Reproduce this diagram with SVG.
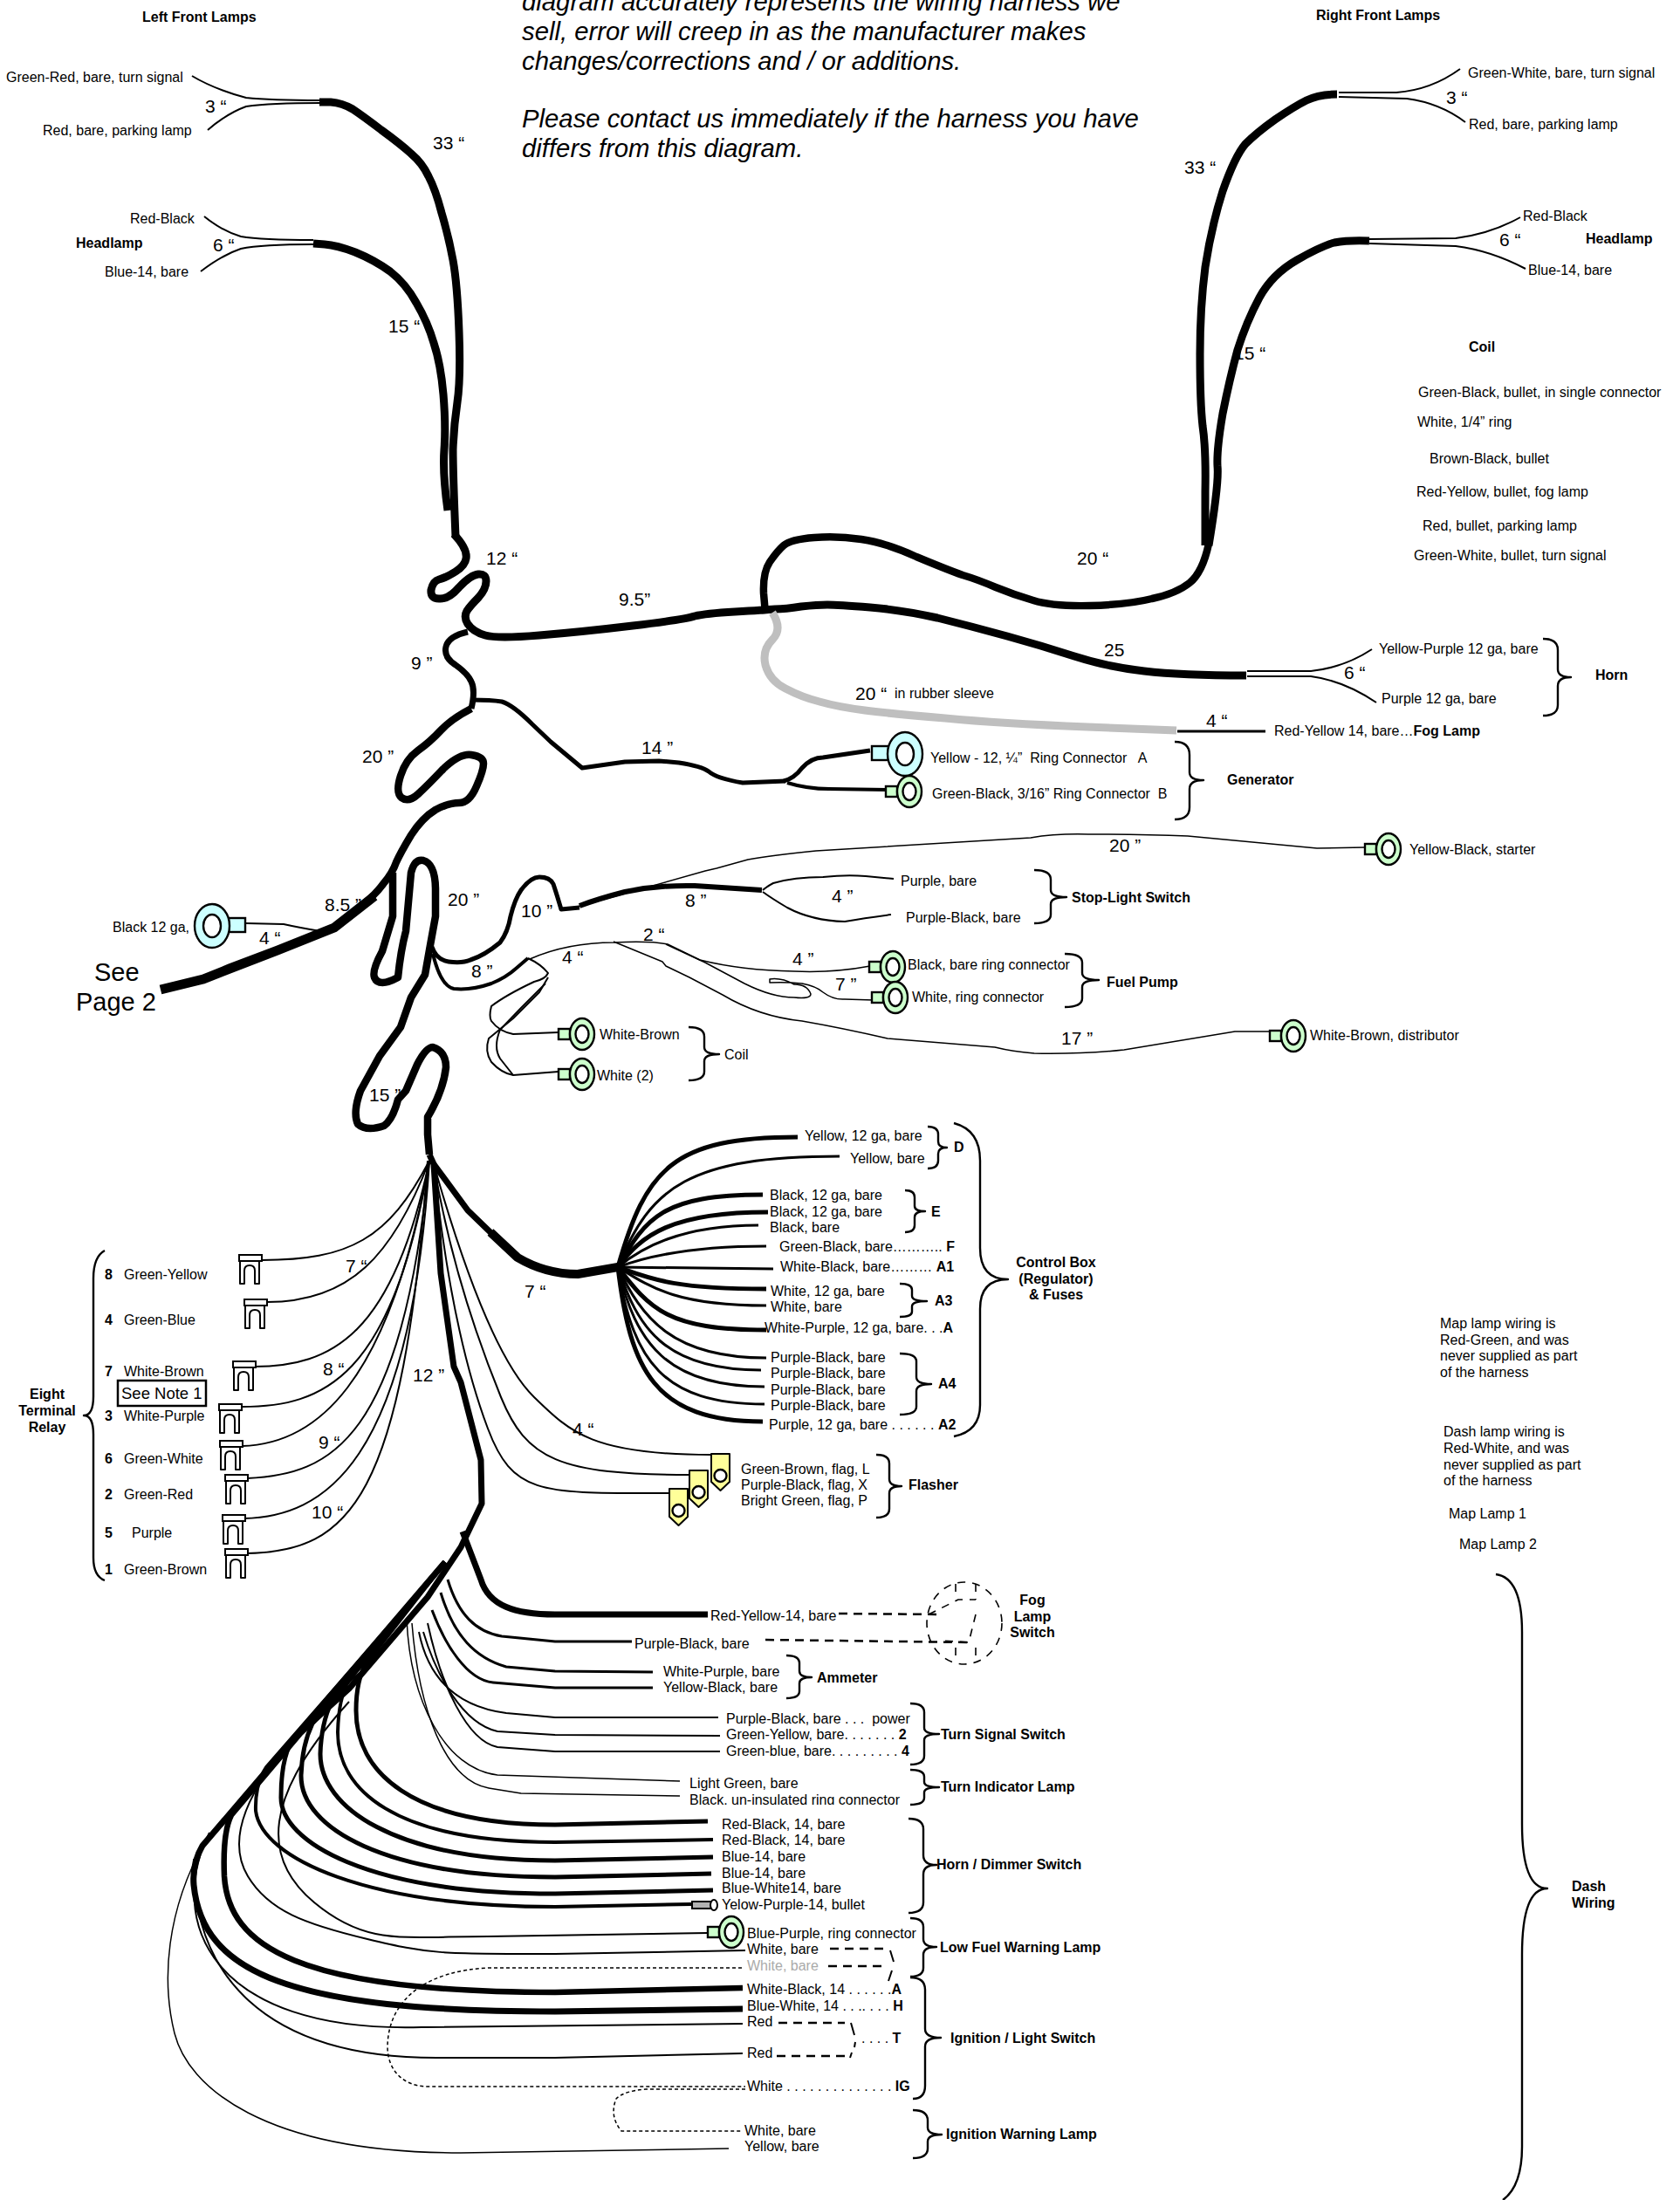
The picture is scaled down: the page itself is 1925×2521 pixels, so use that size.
<svg xmlns="http://www.w3.org/2000/svg" width="1925" height="2521" viewBox="0 0 1925 2521">
<style>
text{font-family:"Liberation Sans",Arial,sans-serif;font-size:16px;fill:#000;white-space:pre}
.b,.b tspan{font-weight:bold}
tspan.b{font-weight:bold}
.n{font-size:21px}
.h{font-size:29.3px;font-style:italic}
.p{font-size:29px}
.s{font-size:18.5px}
path,line{fill:none;stroke:#000;stroke-linecap:butt;stroke-linejoin:round}
.w9{stroke-width:9}.w8{stroke-width:8.5}.w7{stroke-width:7}.w6{stroke-width:6}.w5{stroke-width:5}.w4{stroke-width:4}.w3{stroke-width:3}.w2{stroke-width:2}.w1{stroke-width:1.5}
.gr{stroke:#bfbfbf;stroke-width:9}
.br{stroke-width:2.4}
.dash{stroke-width:2.5;stroke-dasharray:10 7}
.dot{stroke-width:1.5;stroke-dasharray:4 3}
.dsh{stroke-width:1.6;stroke-dasharray:9 8}
.rg{fill:#ccffcc;stroke:#000;stroke-width:2.4}
.rb{fill:#ccffff;stroke:#000;stroke-width:2.4}
.hole{fill:#fff;stroke:#000;stroke-width:2.4}
.fl{fill:#ffff99;stroke:#000;stroke-width:2}
.tm{fill:#fff;stroke:#000;stroke-width:2}
</style>
<defs>
<g id="ringG"><rect class="rg" x="-27" y="-6" width="13" height="12"/><ellipse class="rg" rx="14" ry="18"/><ellipse class="hole" rx="7.5" ry="10"/></g>
<g id="ringB"><rect class="rb" x="-38" y="-9" width="19" height="16"/><ellipse class="rb" rx="20" ry="25"/><ellipse class="hole" rx="10" ry="13"/></g>
<g id="term"><path class="tm" d="M1,7V33H6V18Q6,12 12,12Q18,12 18,18V33H23V7Z"/><rect class="tm" x="0" y="0" width="26" height="7"/></g>
<g id="flag"><path class="fl" d="M0,0H21V32L10.500,42L0,32Z"/><circle class="hole" cx="10.500" cy="25" r="7"/></g>
<clipPath id="cut"><rect x="780" y="2040" width="300" height="28"/></clipPath>
</defs>

<g id="connectors">
<path class="w2" d="M220,87Q245,102 282,112Q310,115 367,115"/>
<path class="w2" d="M238,149Q260,130 282,122Q310,118 367,118"/>
<path class="w9" d="M366,117L379,117Q392,118 404,125Q416,133 437,149Q459,165 471,176Q484,187 491,202Q499,217 506,244Q514,271 519,298Q524,325 526,380Q528,434 524,461Q520,488 519,515Q519,542 522,615"/>
<path class="w2" d="M234,248Q255,265 276,271Q300,275 359,275"/>
<path class="w2" d="M230,311Q255,292 276,285Q300,280 359,280"/>
<path class="w9" d="M359,279L372,280Q386,281 407,289Q429,298 447,311Q465,325 477,347Q490,369 497,393Q505,417 508,452Q511,488 509,515Q507,542 513,585"/>
<path class="w9" d="M520,612Q536,629 534,640Q533,648 522,655Q511,662 503,664Q496,666 494,676Q493,686 503,686Q514,687 526,673Q539,659 548,658Q557,657 557,666Q557,675 548,685Q539,694 535,700Q531,707 536,715Q542,724 556,728Q570,732 618,728Q667,724 725,717Q784,710 796,706Q808,703 842,701Q876,699 888,698Q900,698 918,695Q937,693 948,693Q960,693 997,696Q1034,699 1074,708Q1114,718 1154,729Q1194,740 1231,752Q1268,764 1311,769Q1354,774 1428,774"/>
<path class="w2" d="M1429,769L1502,769Q1540,765 1572,744"/>
<path class="w2" d="M1429,775L1502,775Q1540,780 1577,805"/>
<path class="w8" d="M877,703L875,680Q874,656 882,644Q891,631 898,625Q906,618 933,616Q960,614 987,618Q1015,622 1050,638Q1086,653 1103,659Q1120,664 1141,673Q1163,682 1184,688Q1206,695 1249,694Q1292,693 1320,686Q1348,680 1363,668Q1378,656 1385,623"/>
<path class="w9" d="M1381,625L1381,563Q1382,515 1378,488Q1375,461 1375,406Q1375,352 1381,306Q1388,260 1401,219Q1415,179 1427,165Q1440,152 1461,137Q1483,122 1497,115Q1511,108 1532,108"/>
<path class="w9" d="M1385,625Q1397,553 1395,534Q1394,515 1401,474Q1409,434 1418,401Q1428,369 1443,341Q1458,314 1486,298Q1514,282 1529,278Q1545,275 1569,276"/>
<path class="w2" d="M1534,106L1600,106Q1640,103 1673,79"/>
<path class="w2" d="M1534,111L1612,113Q1650,118 1679,140"/>
<path class="w2" d="M1569,274L1668,273Q1708,268 1742,249"/>
<path class="w2" d="M1569,279L1668,282Q1708,287 1748,308"/>
<path class="gr" d="M885,702Q897,721 885,733Q873,745 877,762Q882,780 900,789Q919,799 939,804Q960,810 991,814Q1022,818 1083,823Q1145,829 1246,833L1348,837"/>
<path class="w3" d="M1349,838L1450,838"/>
<path class="w7" d="M536,724Q514,729 511,741Q508,753 522,762Q536,772 540,781Q545,791 540,812"/>
<path class="w8" d="M540,812Q517,824 505,837Q493,850 479,860Q465,870 459,889Q453,908 460,914Q468,920 479,910Q490,900 508,881Q527,863 540,865Q554,867 554,875Q554,883 546,901Q538,920 526,920Q514,920 499,928Q484,937 471,957Q459,977 454,988Q450,1000 439,1013Q429,1027 406,1045"/>
<path stroke-width="11" d="M429,1027L383,1063L318,1089L263,1110L233,1122L184,1134"/>
<path class="w2" d="M282,1058L325,1059Q343,1063 367,1067"/>
<path class="w5" d="M540,802Q563,802 575,804Q588,808 610,830L631,850L667,880L716,873L755,872L778,874Q804,878 812,884Q821,892 851,897L900,895"/>
<path class="w5" d="M898,895Q910,892 919,880Q930,868 943,868L997,860"/>
<path class="w4" d="M902,897Q925,904 950,904L1017,905"/>
<path class="w8" d="M450,1000L450,1050L438,1090Q426,1112 429,1120Q434,1132 456,1120Q459,1090 465,1067L471,1000Q475,984 485,986Q499,990 499,1020L499,1050L493,1083L487,1117L471,1143L459,1177L435,1210L413,1250Q404,1275 410,1288Q420,1297 440,1290Q450,1283 456,1260L465,1250L478,1220Q488,1200 496,1200Q511,1205 511,1223Q508,1250 490,1280L490,1300L492,1323"/>
<path class="w5" d="M495,1085Q500,1100 514,1102Q530,1104 539,1100Q555,1095 573,1080Q582,1068 585,1050Q590,1030 597,1020Q608,1005 618,1005Q630,1005 634,1013Q638,1025 643,1042L664,1040"/>
<path class="w6" d="M664,1038Q685,1030 716,1022Q755,1014 796,1015L873,1020"/>
<path class="w1" d="M658,1040L741,1017L808,998L821,995L857,985Q885,980 935,975L1181,960Q1210,955 1247,956Q1310,956 1361,958L1509,972L1564,971"/>
<path class="w2" d="M874,1020Q880,1015 886,1012Q910,1005 943,1005Q970,1002 992,1004L1024,1007"/>
<path class="w2" d="M874,1022Q885,1030 902,1040Q930,1055 968,1056Q990,1052 1021,1048"/>
<path class="w4" d="M496,1093Q505,1130 520,1133Q540,1135 563,1127Q580,1120 591,1110L605,1098"/>
<path class="w1" d="M607,1099Q650,1080 704,1080Q745,1078 765,1082L802,1100Q850,1112 910,1113Q955,1115 997,1107"/>
<path class="w1" d="M703,1079L759,1102L763,1107L790,1120L828,1140Q870,1165 919,1170Q965,1178 1017,1190L1140,1200Q1160,1205 1185,1207Q1240,1208 1288,1203L1415,1182L1456,1182"/>
<path class="w1" d="M763,1082L808,1103L853,1127Q885,1143 910,1143Q929,1145 929,1139Q925,1128 910,1128Q895,1120 882,1122L882,1126Q900,1125 919,1127Q935,1130 943,1137Q955,1146 968,1145L1001,1146"/>
<path class="w2" d="M605,1098Q620,1105 628,1115Q625,1122 612,1125Q580,1140 563,1153Q560,1165 563,1170Q572,1182 588,1185L640,1183"/>
<path class="w2" d="M628,1120L618,1137L588,1167L560,1190Q555,1205 563,1217Q575,1230 588,1232L640,1228"/>
<path class="w2" d="M625,1127L597,1155L573,1180Q565,1200 573,1213L588,1232"/>
<path class="w7" d="M492,1323L497,1334L505,1459L520,1566L528,1584L551,1673L552,1723L528,1773L490,1830L400,1935L345,1985"/>
<path class="w7" d="M497,1334L536,1387L566,1416"/>
<path stroke-width="10" d="M562,1412L593,1441Q625,1460 662,1460L708,1452"/>
<path class="w5" d="M708,1452C740,1340 770,1303 914,1303"/>
<path class="w3" d="M708,1452C745,1360 790,1325 962,1325"/>
<path class="w5" d="M708,1452C740,1395 760,1369 874,1369"/>
<path class="w5" d="M708,1452C735,1415 770,1389 880,1389"/>
<path class="w3" d="M708,1452C735,1430 780,1404 869,1404"/>
<path class="w3" d="M708,1452C740,1440 790,1428 878,1428"/>
<path class="w3" d="M708,1452L886,1454"/>
<path class="w5" d="M708,1452C745,1465 770,1477 878,1477"/>
<path class="w3" d="M708,1452C745,1475 775,1496 878,1496"/>
<path class="w5" d="M708,1452C745,1500 765,1524 878,1524"/>
<path class="w3" d="M708,1452C735,1510 770,1556 878,1556"/>
<path class="w3" d="M708,1452C730,1520 760,1570 872,1570"/>
<path class="w3" d="M708,1452C728,1540 765,1589 876,1589"/>
<path class="w3" d="M708,1452C725,1560 760,1609 876,1609"/>
<path class="w5" d="M708,1452C722,1570 750,1629 874,1629"/>
<path class="w2" d="M300,1444C400,1444 445,1420 492,1330"/>
<path class="w2" d="M306,1492C400,1492 450,1440 492,1330"/>
<path class="w2" d="M291,1566C380,1566 450,1530 492,1330"/>
<path class="w2" d="M277,1612C370,1612 450,1580 492,1330"/>
<path class="w2" d="M277,1657C360,1655 445,1590 492,1330"/>
<path class="w2" d="M283,1694C380,1690 460,1650 492,1330"/>
<path class="w2" d="M279,1740C370,1738 470,1680 492,1330"/>
<path class="w2" d="M283,1780C400,1778 462,1720 490,1330"/>
<path class="w2" d="M497,1334C530,1450 570,1560 612,1601S680,1667 815,1667"/>
<path class="w2" d="M497,1334C515,1440 545,1530 574,1601S640,1690 790,1690"/>
<path class="w2" d="M497,1334C510,1460 530,1560 559,1637S620,1711 767,1711"/>
<path stroke-width="7" d="M530,1755L551,1810C560,1840 590,1850 636,1850L811,1850"/>
<path class="w3" d="M513,1810C525,1850 545,1870 575,1875L636,1881L724,1881"/>
<path class="w3" d="M505,1825C520,1875 545,1900 580,1910L636,1915L748,1916"/>
<path class="w3" d="M495,1845C510,1885 535,1925 565,1928L636,1934L748,1934"/>
<path class="w2" d="M480,1870C490,1920 520,1955 580,1963L636,1968L823,1968"/>
<path class="w2" d="M485,1870C500,1920 530,1975 570,1984L636,1988L825,1989"/>
<path class="w2" d="M490,1860C505,1930 535,1995 570,2002L636,2007L825,2007"/>
<path class="w1" d="M466,1855C470,1950 510,2027 570,2034L779,2041"/>
<path class="w1" d="M472,1860C480,1960 510,2040 560,2049L597,2055L779,2058"/>
<path class="w5" d="M510,1790L420,1905Q408,1925 408,1960C408,2030 470,2091 636,2091L811,2087"/>
<path class="w4" d="M510,1790L400,1925Q388,1945 387,1985C387,2050 450,2111 636,2111L817,2108"/>
<path class="w5" d="M510,1790L380,1950Q368,1975 367,2010C367,2070 450,2132 636,2132L817,2128"/>
<path class="w5" d="M510,1790L358,1975Q346,2000 345,2035C345,2095 440,2151 636,2151L815,2147"/>
<path class="w5" d="M510,1790L332,2000Q322,2020 322,2060C322,2110 420,2170 636,2170L817,2166"/>
<path class="w4" d="M510,1790L305,2025Q292,2045 293,2075C300,2130 420,2185 636,2185L792,2182"/>
<path class="w2" d="M400,1950C300,2060 300,2130 360,2180S460,2219 559,2219L811,2215"/>
<path class="w2" d="M420,1910C270,2040 260,2110 284,2150S350,2205 421,2222S500,2239 636,2239L854,2235"/>
<path stroke-width="6.500" d="M510,1790L265,2080Q255,2100 257,2150C262,2230 340,2283 636,2283L851,2278"/>
<path stroke-width="7" d="M510,1790L232,2115Q220,2135 222,2160C232,2260 330,2305 636,2305L851,2302"/>
<path class="w2" d="M240,2100C190,2200 240,2330 483,2323L851,2319"/>
<path class="w2" d="M222,2130C220,2260 300,2358 500,2358L636,2358L851,2353"/>
<path class="w1" d="M235,2110C190,2190 185,2270 200,2330S300,2467 528,2467L835,2462"/>
<path class="dot" d="M850,2255L560,2255C490,2258 445,2290 444,2345C444,2375 465,2391 490,2391L854,2391"/>
<path class="dot" d="M854,2394L740,2394Q715,2396 706,2405Q698,2425 712,2442L851,2442"/>
<path class="dash" d="M961,1849L1079,1850"/>
<path class="dash" d="M877,1879L1110,1882"/>
<path class="dash" d="M951,2233L1014,2233"/>
<path class="dash" d="M949,2253L1014,2253"/>
<path class="w2" d="M1020,2235L1024,2248M1022,2258L1018,2270"/>
<path class="dash" d="M892,2318L968,2318"/>
<path class="dash" d="M890,2356L968,2356"/>
<path class="w2" d="M975,2318L979,2332M980,2340L979,2346M976,2352L974,2358"/>
</g>

<g id="text-note">
<text class="h" x="598" y="12">diagram accurately represents the wiring harness we</text>
<text class="h" x="598" y="46">sell, error will creep in as the manufacturer makes</text>
<text class="h" x="598" y="80">changes/corrections and / or additions.</text>
<text class="h" x="598" y="146">Please contact us immediately if the harness you have</text>
<text class="h" x="598" y="180">differs from this diagram.</text>
</g>

<g id="left-front-lamps">
<text class="b" x="163" y="25">Left Front Lamps</text>
<text x="7" y="94">Green-Red, bare, turn signal</text>
<text x="49" y="155">Red, bare, parking lamp</text>
<text class="n" x="235" y="129">3 “</text>
<text class="n" x="496" y="171">33 “</text>
<text x="149" y="256">Red-Black</text>
<text class="b" x="87" y="284">Headlamp</text>
<text x="120" y="317">Blue-14, bare</text>
<text class="n" x="244" y="288">6 “</text>
<text class="n" x="445" y="381">15 “</text>
<text class="n" x="557" y="647">12 “</text>
<text class="n" x="709" y="694">9.5”</text>
<text class="n" x="471" y="767">9 ”</text>
</g>

<g id="right-front-lamps">
<text class="b" x="1508" y="23">Right Front Lamps</text>
<text x="1682" y="89">Green-White, bare, turn signal</text>
<text x="1683" y="148">Red, bare, parking lamp</text>
<text class="n" x="1657" y="119">3 “</text>
<text class="n" x="1357" y="199">33 “</text>
<text x="1745" y="253">Red-Black</text>
<text class="n" x="1718" y="282">6 “</text>
<text class="b" x="1817" y="279">Headlamp</text>
<text x="1751" y="315">Blue-14, bare</text>
<text class="n" x="1414" y="412">15 “</text>
<text class="n" x="1234" y="647">20 “</text>
</g>

<g id="coil-list">
<text class="b" x="1683" y="403">Coil</text>
<text x="1625" y="455">Green-Black, bullet, in single connector</text>
<text x="1624" y="489">White, 1/4” ring</text>
<text x="1638" y="531">Brown-Black, bullet</text>
<text x="1623" y="569">Red-Yellow, bullet, fog lamp</text>
<text x="1630" y="608">Red, bullet, parking lamp</text>
<text x="1620" y="642">Green-White, bullet, turn signal</text>
</g>

<g id="horn">
<text class="n" x="1265" y="752">25</text>
<text class="n" x="980" y="802">20 “</text>
<text x="1025" y="800">in rubber sleeve</text>
<text x="1580" y="749">Yellow-Purple 12 ga, bare</text>
<text class="n" x="1540" y="778">6 “</text>
<text x="1583" y="806">Purple 12 ga, bare</text>
<text class="b" x="1828" y="779">Horn</text>
<path class="br" d="M1768,732Q1785,732 1785,745V767Q1785,776 1800,776Q1785,776 1785,786V808Q1785,820 1768,820"/>
</g>

<g id="fog-lamp-wire">
<text class="n" x="1382" y="833">4 “</text>
<text x="1460" y="843">Red-Yellow 14, bare…<tspan class="b">Fog Lamp</tspan></text>
</g>

<g id="generator">
<use href="#ringB" x="1037" y="864"/>
<use href="#ringG" x="1042" y="907"/>
<text class="n" x="735" y="864">14 ”</text>
<text x="1066" y="874">Yellow - 12, ¼”  Ring Connector   A</text>
<text x="1068" y="915">Green-Black, 3/16” Ring Connector  B</text>
<text class="b" x="1406" y="899">Generator</text>
<path class="br" d="M1346,850Q1363,850 1363,865V885Q1363,894 1379,894Q1363,894 1363,904V925Q1363,939 1346,939"/>
</g>

<g id="starter">
<use href="#ringG" x="1591" y="973"/>
<text x="1615" y="979">Yellow-Black, starter</text>
<text class="n" x="1271" y="976">20 ”</text>
</g>

<g id="stop-light-switch">
<text x="1032" y="1015">Purple, bare</text>
<text x="1038" y="1057">Purple-Black, bare</text>
<text class="n" x="953" y="1034">4 ”</text>
<text class="n" x="785" y="1039">8 ”</text>
<text class="b" x="1228" y="1034">Stop-Light Switch</text>
<path class="br" d="M1185,997Q1204,997 1204,1008V1020Q1204,1028 1222,1028Q1204,1028 1204,1036V1048Q1204,1058 1185,1058"/>
</g>

<g id="black-12">
<use href="#ringB" transform="translate(243,1061) scale(-1,1)"/>
<text x="129" y="1068">Black 12 ga,</text>
<text class="p" x="108" y="1124">See</text>
<text class="p" x="87" y="1158">Page 2</text>
<text class="n" x="415" y="874">20 ”</text>
<text class="n" x="372" y="1044">8.5 ”</text>
<text class="n" x="513" y="1038">20 ”</text>
<text class="n" x="597" y="1051">10 ”</text>
<text class="n" x="297" y="1082">4 “</text>
<text class="n" x="540" y="1120">8 ”</text>
<text class="n" x="644" y="1104">4 “</text>
<text class="n" x="737" y="1078">2 “</text>
<text class="n" x="423" y="1262">15 ”</text>
</g>

<g id="fuel-pump">
<use href="#ringG" x="1023" y="1108"/>
<use href="#ringG" x="1026" y="1143"/>
<text class="n" x="908" y="1106">4 ”</text>
<text class="n" x="957" y="1135">7 ”</text>
<text x="1040" y="1111">Black, bare ring connector</text>
<text x="1045" y="1148">White, ring connector</text>
<text class="b" x="1268" y="1131">Fuel Pump</text>
<path class="br" d="M1220,1093Q1240,1093 1240,1103V1115Q1240,1123 1259,1123Q1240,1123 1240,1131V1144Q1240,1154 1220,1154"/>
</g>

<g id="distributor">
<use href="#ringG" x="1482" y="1187"/>
<text class="n" x="1216" y="1197">17 ”</text>
<text x="1501" y="1192">White-Brown, distributor</text>
</g>

<g id="coil">
<use href="#ringG" x="667" y="1185"/>
<use href="#ringG" x="667" y="1231"/>
<text x="687" y="1191">White-Brown</text>
<text x="684" y="1238">White (2)</text>
<text x="830" y="1214">Coil</text>
<path class="br" d="M789,1177Q807,1177 807,1188V1200Q807,1208 824,1208Q807,1208 807,1216V1228Q807,1238 789,1238"/>
</g>

<g id="control-box">
<text x="922" y="1307">Yellow, 12 ga, bare</text>
<text x="974" y="1333">Yellow, bare</text>
<text x="882" y="1375">Black, 12 ga, bare</text>
<text x="882" y="1394">Black, 12 ga, bare</text>
<text x="882" y="1412">Black, bare</text>
<text x="893" y="1434">Green-Black, bare……….. <tspan class="b">F</tspan></text>
<text x="894" y="1457">White-Black, bare……… <tspan class="b">A1</tspan></text>
<text x="883" y="1485">White, 12 ga, bare</text>
<text x="883" y="1503">White, bare</text>
<text x="876" y="1527">White-Purple, 12 ga, bare. . .<tspan class="b">A</tspan></text>
<text x="883" y="1561">Purple-Black, bare</text>
<text x="883" y="1579">Purple-Black, bare</text>
<text x="883" y="1598">Purple-Black, bare</text>
<text x="883" y="1616">Purple-Black, bare</text>
<text x="881" y="1638">Purple, 12 ga, bare . . . . . . <tspan class="b">A2</tspan></text>
<text class="b" x="1093" y="1320">D</text>
<text class="b" x="1067" y="1394">E</text>
<text class="b" x="1071" y="1496">A3</text>
<text class="b" x="1075" y="1591">A4</text>
<text class="b" x="1210" y="1452" text-anchor="middle">Control Box</text>
<text class="b" x="1210" y="1471" text-anchor="middle">(Regulator)</text>
<text class="b" x="1210" y="1489" text-anchor="middle">&amp; Fuses</text>
<text class="n" x="601" y="1487">7 “</text>
<path class="br" d="M1093,1287Q1123,1295 1123,1330V1430Q1123,1466 1155,1466Q1123,1466 1123,1500V1610Q1123,1640 1093,1646"/>
<path class="br" d="M1063,1291Q1075,1291 1075,1300V1308Q1075,1315 1085,1315Q1075,1315 1075,1322V1330Q1075,1339 1063,1339"/>
<path class="br" d="M1037,1364Q1048,1364 1048,1372V1382Q1048,1388 1060,1388Q1048,1388 1048,1395V1404Q1048,1412 1037,1412"/>
<path class="br" d="M1031,1471Q1045,1471 1045,1478V1485Q1045,1491 1062,1491Q1045,1491 1045,1497V1503Q1045,1509 1031,1509"/>
<path class="br" d="M1031,1551Q1050,1551 1050,1560V1578Q1050,1586 1067,1586Q1050,1586 1050,1594V1612Q1050,1621 1031,1621"/>
</g>

<g id="flasher">
<use href="#flag" x="815" y="1666"/>
<use href="#flag" x="790" y="1685"/>
<use href="#flag" x="767" y="1706"/>
<text class="n" x="656" y="1645">4 “</text>
<text x="849" y="1689">Green-Brown, flag, L</text>
<text x="849" y="1707">Purple-Black, flag, X</text>
<text x="849" y="1725">Bright Green, flag, P</text>
<text class="b" x="1041" y="1707">Flasher</text>
<path class="br" d="M1004,1667Q1019,1667 1019,1677V1695Q1019,1703 1033,1703Q1019,1703 1019,1711V1729Q1019,1739 1004,1739"/>
</g>

<g id="relay">
<use href="#term" x="274" y="1438"/>
<use href="#term" x="280" y="1489"/>
<use href="#term" x="267" y="1560"/>
<use href="#term" x="251" y="1609"/>
<use href="#term" x="252" y="1651"/>
<use href="#term" x="258" y="1690"/>
<use href="#term" x="255" y="1736"/>
<use href="#term" x="258" y="1775"/>
<text class="b" x="120" y="1466">8</text><text x="142" y="1466">Green-Yellow</text>
<text class="b" x="120" y="1518">4</text><text x="142" y="1518">Green-Blue</text>
<text class="b" x="120" y="1577">7</text><text x="142" y="1577">White-Brown</text>
<text class="b" x="120" y="1628">3</text><text x="142" y="1628">White-Purple</text>
<text class="b" x="120" y="1677">6</text><text x="142" y="1677">Green-White</text>
<text class="b" x="120" y="1718">2</text><text x="142" y="1718">Green-Red</text>
<text class="b" x="120" y="1762">5</text><text x="151" y="1762">Purple</text>
<text class="b" x="120" y="1804">1</text><text x="142" y="1804">Green-Brown</text>
<rect x="135" y="1582" width="101" height="29" fill="#fff" stroke="#000" stroke-width="2.5"/>
<text class="s" x="139" y="1603">See Note 1</text>
<text class="b" x="54" y="1603" text-anchor="middle">Eight</text>
<text class="b" x="54" y="1622" text-anchor="middle">Terminal</text>
<text class="b" x="54" y="1641" text-anchor="middle">Relay</text>
<text class="n" x="396" y="1458">7 “</text>
<text class="n" x="370" y="1576">8 “</text>
<text class="n" x="365" y="1660">9 “</text>
<text class="n" x="357" y="1740">10 “</text>
<text class="n" x="473" y="1583">12 ”</text>
<path class="br" d="M120,1433Q107,1440 107,1465V1600Q107,1622 96,1622Q107,1622 107,1644V1785Q107,1806 120,1811"/>
</g>

<g id="fog-lamp-switch">
<text x="814" y="1857">Red-Yellow-14, bare</text>
<text x="727" y="1889">Purple-Black, bare</text>
<ellipse cx="1105" cy="1860" rx="43" ry="47" fill="none" stroke="#000" stroke-width="1.600" stroke-dasharray="9 8"/>
<path class="dsh" d="M1095,1815V1832M1118,1815V1833M1064,1850L1098,1833L1118,1833M1118,1850L1110,1882L1080,1880M1095,1888V1905M1118,1888V1905"/>
<text class="b" x="1183" y="1839" text-anchor="middle">Fog</text>
<text class="b" x="1183" y="1858" text-anchor="middle">Lamp</text>
<text class="b" x="1183" y="1876" text-anchor="middle">Switch</text>
</g>

<g id="ammeter">
<text x="760" y="1921">White-Purple, bare</text>
<text x="760" y="1939">Yellow-Black, bare</text>
<text class="b" x="936" y="1928">Ammeter</text>
<path class="br" d="M901,1897Q916,1897 916,1906V1915Q916,1922 930,1922Q916,1922 916,1929V1938Q916,1946 901,1946"/>
</g>

<g id="turn-signal-switch">
<text x="832" y="1975">Purple-Black, bare . . .  power</text>
<text x="832" y="1993">Green-Yellow, bare. . . . . . . <tspan class="b">2</tspan></text>
<text x="832" y="2012">Green-blue, bare. . . . . . . . . <tspan class="b">4</tspan></text>
<text class="b" x="1078" y="1993">Turn Signal Switch</text>
<path class="br" d="M1043,1952Q1059,1952 1059,1962V1980Q1059,1987 1076,1987Q1059,1987 1059,1994V2012Q1059,2022 1043,2022"/>
</g>

<g id="turn-indicator-lamp">
<text x="790" y="2049">Light Green, bare</text>
<text x="790" y="2068" clip-path="url(#cut)">Black, un-insulated ring connector</text>
<text class="b" x="1078" y="2053">Turn Indicator Lamp</text>
<path class="br" d="M1043,2028Q1059,2028 1059,2036V2042Q1059,2048 1076,2048Q1059,2048 1059,2054V2060Q1059,2068 1043,2068"/>
</g>

<g id="horn-dimmer-switch">
<text x="827" y="2096">Red-Black, 14, bare</text>
<text x="827" y="2114">Red-Black, 14, bare</text>
<text x="827" y="2133">Blue-14, bare</text>
<text x="827" y="2152">Blue-14, bare</text>
<text x="827" y="2169">Blue-White14, bare</text>
<text x="827" y="2188">Yelow-Purple-14, bullet</text>
<rect x="793" y="2179" width="23" height="8" fill="#b2b2b2" stroke="#000" stroke-width="2"/>
<ellipse cx="818" cy="2183" rx="4" ry="6" fill="#fff" stroke="#000" stroke-width="2"/>
<text class="b" x="1073" y="2142">Horn / Dimmer Switch</text>
<path class="br" d="M1041,2084Q1058,2084 1058,2096V2126Q1058,2137 1073,2137Q1058,2137 1058,2148V2180Q1058,2192 1041,2192"/>
</g>

<g id="low-fuel-warning-lamp">
<use href="#ringG" x="838" y="2214"/>
<text x="856" y="2221">Blue-Purple, ring connector</text>
<text x="856" y="2239">White, bare</text>
<text x="856" y="2258" style="fill:#aaa">White, bare</text>
<text class="b" x="1077" y="2237">Low Fuel Warning Lamp</text>
<path class="br" d="M1043,2198Q1058,2198 1058,2208V2222Q1058,2231 1073,2231Q1058,2231 1058,2240V2255Q1058,2265 1043,2265"/>
</g>

<g id="ignition-light-switch">
<text x="856" y="2285">White-Black, 14 . . . . . .<tspan class="b">A</tspan></text>
<text x="856" y="2304">Blue-White, 14 . . .. . . . <tspan class="b">H</tspan></text>
<text x="856" y="2322">Red</text>
<text x="856" y="2358">Red</text>
<text x="987" y="2341">. . . . <tspan class="b">T</tspan></text>
<text x="856" y="2396">White . . . . . . . . . . . . . . <tspan class="b">IG</tspan></text>
<text class="b" x="1089" y="2341">Ignition / Light Switch</text>
<path class="br" d="M1043,2266Q1060,2266 1060,2280V2325Q1060,2335 1078,2335Q1060,2335 1060,2345V2390Q1060,2405 1046,2405"/>
</g>

<g id="ignition-warning-lamp">
<text x="853" y="2447">White, bare</text>
<text x="853" y="2465">Yellow, bare</text>
<text class="b" x="1084" y="2451">Ignition Warning Lamp</text>
<path class="br" d="M1046,2418Q1063,2418 1063,2430V2438Q1063,2446 1079,2446Q1063,2446 1063,2454V2462Q1063,2473 1046,2473"/>
</g>

<g id="map-notes">
<text x="1650" y="1522">Map lamp wiring is</text>
<text x="1650" y="1541">Red-Green, and was</text>
<text x="1650" y="1559">never supplied as part</text>
<text x="1650" y="1578">of the harness</text>
<text x="1654" y="1646">Dash lamp wiring is</text>
<text x="1654" y="1665">Red-White, and was</text>
<text x="1654" y="1684">never supplied as part</text>
<text x="1654" y="1702">of the harness</text>
<text x="1660" y="1740">Map Lamp 1</text>
<text x="1672" y="1775">Map Lamp 2</text>
</g>

<g id="dash-wiring">
<path class="br" d="M1714,1804Q1744,1808 1744,1870V2090Q1744,2164 1773,2164Q1744,2164 1744,2240V2460Q1744,2505 1722,2521"/>
<text class="b" x="1801" y="2167">Dash</text>
<text class="b" x="1801" y="2186">Wiring</text>
</g>
</svg>
